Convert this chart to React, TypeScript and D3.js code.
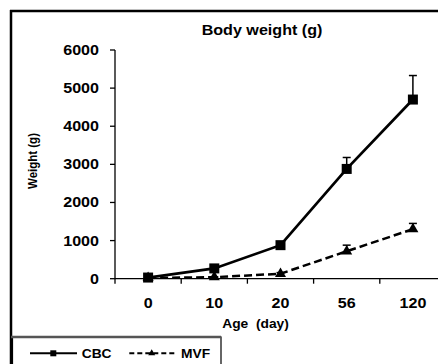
import React from "react";
import * as d3 from "d3";

const categories = ["0", "10", "20", "56", "120"];
const seriesNames = ["CBC", "MVF"];
const cbcValues = [30, 270, 880, 2880, 4700];
const cbcErrors = [10, 40, 60, 300, 630];
const mvfValues = [20, 40, 130, 720, 1300];
const mvfErrors = [5, 10, 30, 160, 150];
const yTicks = [0, 1000, 2000, 3000, 4000, 5000, 6000];

const W = 438;
const H = 364;
const FONT = "'Liberation Sans', Arial, Helvetica, sans-serif";
const SX = 1.15;

function T({ x, y, size, anchor = "middle", rotate = 0, children }: any) {
  return (
    <text
      transform={`translate(${x},${y}) scale(${SX},1)${rotate ? ` rotate(${rotate})` : ""}`}
      fontFamily={FONT}
      fontWeight="bold"
      fontSize={size}
      textAnchor={anchor}
      fill="#000"
    >
      {children}
    </text>
  );
}

function tri(cx: number, cy: number, s: number) {
  const h = (s * Math.sqrt(3)) / 2;
  return `M${cx},${cy - (2 * h) / 3}L${cx + s / 2},${cy + h / 3}L${cx - s / 2},${cy + h / 3}Z`;
}

export default function App() {
  const x = d3.scaleBand<string>().domain(categories).range([115, 446]).paddingInner(0).paddingOuter(0);
  const y = d3.scaleLinear().domain([0, 6000]).range([278.7, 50]);
  const cx = (c: string) => (x(c) as number) + x.bandwidth() / 2;

  const line = d3
    .line<number>()
    .x((_, i) => cx(categories[i]))
    .y((d) => y(d));

  const tickEdges = categories.map((c) => x(c) as number).concat([(x(categories[categories.length - 1]) as number) + x.bandwidth()]);

  return (
    <svg width={W} height={H} style={{ position: "absolute", left: 0, top: 0, background: "#fff" }}>
      <rect x={0} y={0} width={W} height={H} fill="#fff" />
      {/* outer frame */}
      <line x1={10} y1={11} x2={W} y2={11} stroke="#000" strokeWidth={2.5} />
      <line x1={11} y1={10} x2={11} y2={H} stroke="#000" strokeWidth={2.5} />

      {/* title */}
      <T x={262} y={35} size={14}>Body weight (g)</T>

      {/* y axis */}
      <line x1={115} y1={y(6000)} x2={115} y2={y(0)} stroke="#000" strokeWidth={1.3} />
      {yTicks.map((t) => (
        <g key={t}>
          <line x1={110} x2={115} y1={y(t)} y2={y(t)} stroke="#000" strokeWidth={1.3} />
          <T x={99} y={y(t) + 5} size={14} anchor="end">{String(t)}</T>
        </g>
      ))}
      <T x={36.7} y={161} size={11.5} rotate={-90}>Weight (g)</T>

      {/* x axis */}
      <line x1={115} y1={y(0)} x2={446} y2={y(0)} stroke="#000" strokeWidth={1.3} />
      {tickEdges.map((e, i) => (
        <line key={i} x1={e} x2={e} y1={y(0)} y2={y(0) + 5} stroke="#000" strokeWidth={1.3} />
      ))}
      {categories.map((c) => (
        <T key={c} x={cx(c)} y={308.3} size={14}>{c}</T>
      ))}
      <T x={255.5} y={327.5} size={12}>{"Age\u00a0\u00a0(day)"}</T>

      {/* error bars */}
      {cbcValues.map((v, i) => {
        const px = cx(categories[i]);
        return (
          <g key={"ec" + i}>
            <line x1={px} x2={px} y1={y(v)} y2={y(v + cbcErrors[i])} stroke="#000" strokeWidth={1.5} />
            <line x1={px - 4} x2={px + 4} y1={y(v + cbcErrors[i])} y2={y(v + cbcErrors[i])} stroke="#000" strokeWidth={1.5} />
          </g>
        );
      })}
      {mvfValues.map((v, i) => {
        const px = cx(categories[i]);
        return (
          <g key={"em" + i}>
            <line x1={px} x2={px} y1={y(v)} y2={y(v + mvfErrors[i])} stroke="#000" strokeWidth={1.5} />
            <line x1={px - 4} x2={px + 4} y1={y(v + mvfErrors[i])} y2={y(v + mvfErrors[i])} stroke="#000" strokeWidth={1.5} />
          </g>
        );
      })}

      {/* lines */}
      <path d={line(mvfValues) as string} fill="none" stroke="#000" strokeWidth={2.5} strokeDasharray="8,4" />
      <path d={line(cbcValues) as string} fill="none" stroke="#000" strokeWidth={2.7} />

      {/* markers */}
      {cbcValues.map((v, i) => (
        <rect key={"mc" + i} x={cx(categories[i]) - 5} y={y(v) - 5} width={10} height={10} fill="#000" />
      ))}
      {mvfValues.map((v, i) => (
        <path key={"mm" + i} d={tri(cx(categories[i]), y(v), 11)} fill="#000" />
      ))}

      {/* legend */}
      <rect x={12.5} y={337} width={208.5} height={40} fill="#fff" stroke="#000" strokeWidth={1.2} />
      <line x1={11} y1={337} x2={221} y2={337} stroke="#555" strokeWidth={2.5} />
      <line x1={30} x2={77} y1={353.3} y2={353.3} stroke="#000" strokeWidth={2} />
      <rect x={50.3} y={350.3} width={6} height={6} fill="#000" />
      <T x={81.7} y={357.5} size={12} anchor="start">{seriesNames[0]}</T>
      <line x1={129.3} x2={176.7} y1={353.3} y2={353.3} stroke="#000" strokeWidth={2} strokeDasharray="5,3" />
      <path d={tri(151.7, 353.3, 7)} fill="#000" />
      <T x={181} y={357.5} size={12} anchor="start">{seriesNames[1]}</T>
    </svg>
  );
}
